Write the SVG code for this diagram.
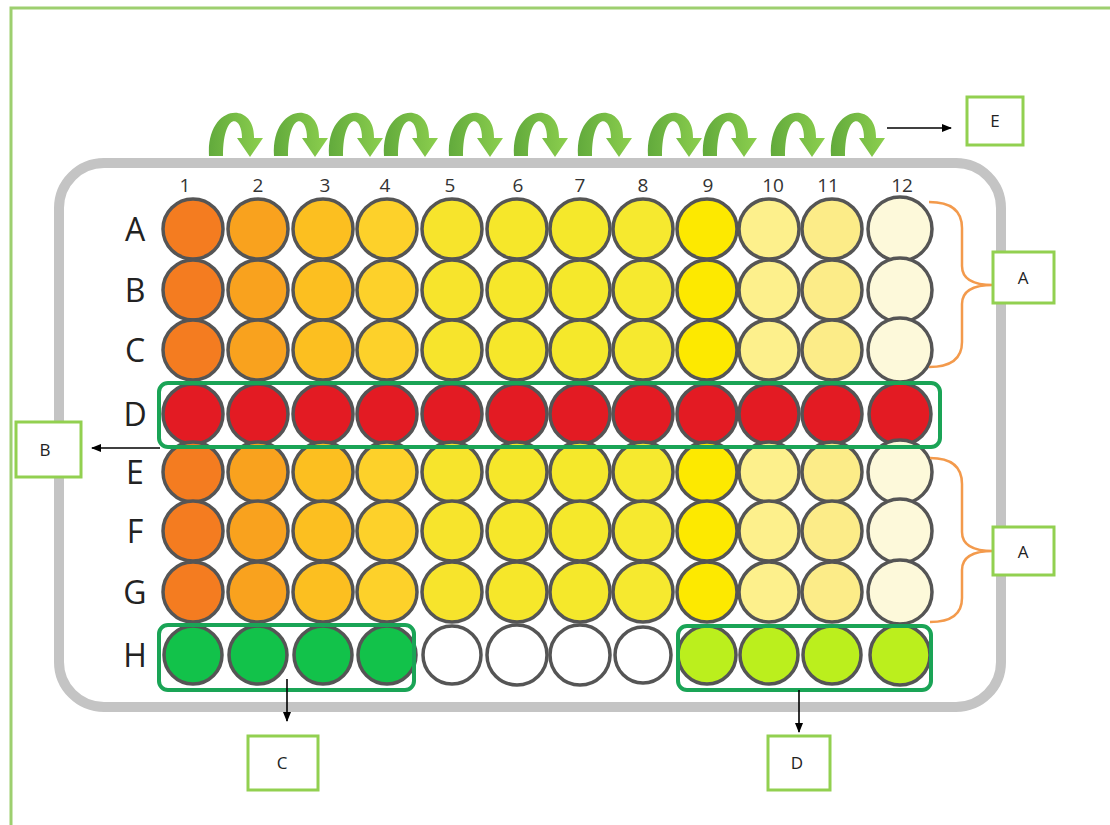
<svg xmlns="http://www.w3.org/2000/svg" xmlns:xlink="http://www.w3.org/1999/xlink" width="1110" height="825" viewBox="0 0 1110 825">
<style>
.frame{fill:none;stroke:#9dcf6f;stroke-width:3}
.plate{fill:#fff;stroke:#c4c4c4;stroke-width:10}
.w{stroke:#555;stroke-width:3.5}
.c1{fill:#f47c20}.c2{fill:#f9a21e}.c3{fill:#fcbf20}.c4{fill:#fdd12a}.c5{fill:#f7e42c}.c6{fill:#f6e72a}
.c7{fill:#f5e82b}.c8{fill:#f6e92f}.c9{fill:#fde900}.c10{fill:#fdf08c}.c11{fill:#fcec88}.c12{fill:#fdf9da}
.red{fill:#e31b23}.grn{fill:#12c24a}.lime{fill:#bbef1d}.wht{fill:#fff}
.hl{fill:none;stroke:#1aa456;stroke-width:4}
.box{fill:#fff;stroke:#92d050;stroke-width:3}
.bt{font-family:"Open Sans","Liberation Sans",sans-serif;font-size:17px;fill:#222;text-anchor:middle}
.rl{font-family:"Open Sans","Liberation Sans",sans-serif;font-size:32px;fill:#222;text-anchor:middle}
.cl{font-family:"Open Sans","Liberation Sans",sans-serif;font-size:19px;fill:#333;text-anchor:middle}
.arr{stroke:#000;stroke-width:1.6;fill:none;marker-end:url(#ah)}
.brace{fill:none;stroke:#f39a4c;stroke-width:2.5}
</style>
<defs>
<marker id="ah" markerWidth="10" markerHeight="8" refX="9" refY="4" orient="auto" markerUnits="userSpaceOnUse">
<path d="M0,0 L10,4 L0,8 Z" fill="#000"/>
</marker>
<linearGradient id="cg" x1="0" y1="0" x2="1" y2="0">
<stop offset="0" stop-color="#62aa3c"/>
<stop offset="1" stop-color="#8ccf4e"/>
</linearGradient>
<path id="curl" d="M1,156 C-2,104 47,100 46,138 L55,138 L42,157 L29,138 L34,138 C34,114 15,112 15,156 Z" fill="url(#cg)"/>
</defs>
<rect class="frame" x="11" y="8" width="1110" height="830"/>
<rect class="plate" x="59" y="163" width="942" height="544" rx="45"/>
<g id="curls">
<use xlink:href="#curl" x="208"/><use xlink:href="#curl" x="273"/><use xlink:href="#curl" x="328"/>
<use xlink:href="#curl" x="383"/><use xlink:href="#curl" x="448"/><use xlink:href="#curl" x="513"/>
<use xlink:href="#curl" x="577"/><use xlink:href="#curl" x="647"/><use xlink:href="#curl" x="702"/>
<use xlink:href="#curl" x="770"/><use xlink:href="#curl" x="830"/>
</g>
<g id="col-labels">
<text class="cl" x="185" y="192">1</text><text class="cl" x="258" y="192">2</text><text class="cl" x="325" y="192">3</text>
<text class="cl" x="385" y="192">4</text><text class="cl" x="450" y="192">5</text><text class="cl" x="518" y="192">6</text>
<text class="cl" x="580" y="192">7</text><text class="cl" x="643" y="192">8</text><text class="cl" x="708" y="192">9</text>
<text class="cl" x="773" y="192">10</text><text class="cl" x="828" y="192">11</text><text class="cl" x="902" y="192">12</text>
</g>
<g id="row-labels">
<text class="rl" x="135" y="241">A</text><text class="rl" x="135" y="302">B</text><text class="rl" x="135" y="362">C</text>
<text class="rl" x="135" y="426">D</text><text class="rl" x="135" y="484">E</text><text class="rl" x="135" y="543">F</text>
<text class="rl" x="135" y="604">G</text><text class="rl" x="135" y="667">H</text>
</g>
<g id="row-A" class="w">
<circle class="c1" cx="193" cy="229" r="30"/><circle class="c2" cx="258" cy="229" r="30"/><circle class="c3" cx="323" cy="229" r="30"/><circle class="c4" cx="387" cy="229" r="30"/><circle class="c5" cx="452" cy="229" r="30"/><circle class="c6" cx="517" cy="229" r="30"/><circle class="c7" cx="580" cy="229" r="30"/><circle class="c8" cx="643" cy="229" r="30"/><circle class="c9" cx="707" cy="229" r="30"/><circle class="c10" cx="769" cy="229" r="30"/><circle class="c11" cx="832" cy="229" r="30"/><circle class="c12" cx="900" cy="229" r="32"/>
</g>
<g id="row-B" class="w">
<circle class="c1" cx="193" cy="290" r="30"/><circle class="c2" cx="258" cy="290" r="30"/><circle class="c3" cx="323" cy="290" r="30"/><circle class="c4" cx="387" cy="290" r="30"/><circle class="c5" cx="452" cy="290" r="30"/><circle class="c6" cx="517" cy="290" r="30"/><circle class="c7" cx="580" cy="290" r="30"/><circle class="c8" cx="643" cy="290" r="30"/><circle class="c9" cx="707" cy="290" r="30"/><circle class="c10" cx="769" cy="290" r="30"/><circle class="c11" cx="832" cy="290" r="30"/><circle class="c12" cx="900" cy="290" r="32"/>
</g>
<g id="row-C" class="w">
<circle class="c1" cx="193" cy="350" r="30"/><circle class="c2" cx="258" cy="350" r="30"/><circle class="c3" cx="323" cy="350" r="30"/><circle class="c4" cx="387" cy="350" r="30"/><circle class="c5" cx="452" cy="350" r="30"/><circle class="c6" cx="517" cy="350" r="30"/><circle class="c7" cx="580" cy="350" r="30"/><circle class="c8" cx="643" cy="350" r="30"/><circle class="c9" cx="707" cy="350" r="30"/><circle class="c10" cx="769" cy="350" r="30"/><circle class="c11" cx="832" cy="350" r="30"/><circle class="c12" cx="900" cy="350" r="32"/>
</g>
<g id="row-D" class="w">
<circle class="red" cx="193" cy="414" r="30"/><circle class="red" cx="258" cy="414" r="30"/><circle class="red" cx="323" cy="414" r="30"/><circle class="red" cx="387" cy="414" r="30"/><circle class="red" cx="452" cy="414" r="30"/><circle class="red" cx="517" cy="414" r="30"/><circle class="red" cx="580" cy="414" r="30"/><circle class="red" cx="643" cy="414" r="30"/><circle class="red" cx="707" cy="414" r="30"/><circle class="red" cx="769" cy="414" r="30"/><circle class="red" cx="832" cy="414" r="30"/><circle class="red" cx="900" cy="414" r="31"/>
</g>
<g id="row-E" class="w">
<circle class="c1" cx="193" cy="472" r="30"/><circle class="c2" cx="258" cy="472" r="30"/><circle class="c3" cx="323" cy="472" r="30"/><circle class="c4" cx="387" cy="472" r="30"/><circle class="c5" cx="452" cy="472" r="30"/><circle class="c6" cx="517" cy="472" r="30"/><circle class="c7" cx="580" cy="472" r="30"/><circle class="c8" cx="643" cy="472" r="30"/><circle class="c9" cx="707" cy="472" r="30"/><circle class="c10" cx="769" cy="472" r="30"/><circle class="c11" cx="832" cy="472" r="30"/><circle class="c12" cx="900" cy="472" r="32"/>
</g>
<g id="row-F" class="w">
<circle class="c1" cx="193" cy="531" r="30"/><circle class="c2" cx="258" cy="531" r="30"/><circle class="c3" cx="323" cy="531" r="30"/><circle class="c4" cx="387" cy="531" r="30"/><circle class="c5" cx="452" cy="531" r="30"/><circle class="c6" cx="517" cy="531" r="30"/><circle class="c7" cx="580" cy="531" r="30"/><circle class="c8" cx="643" cy="531" r="30"/><circle class="c9" cx="707" cy="531" r="30"/><circle class="c10" cx="769" cy="531" r="30"/><circle class="c11" cx="832" cy="531" r="30"/><circle class="c12" cx="900" cy="531" r="32"/>
</g>
<g id="row-G" class="w">
<circle class="c1" cx="193" cy="592" r="30"/><circle class="c2" cx="258" cy="592" r="30"/><circle class="c3" cx="323" cy="592" r="30"/><circle class="c4" cx="387" cy="592" r="30"/><circle class="c5" cx="452" cy="592" r="30"/><circle class="c6" cx="517" cy="592" r="30"/><circle class="c7" cx="580" cy="592" r="30"/><circle class="c8" cx="643" cy="592" r="30"/><circle class="c9" cx="707" cy="592" r="30"/><circle class="c10" cx="769" cy="592" r="30"/><circle class="c11" cx="832" cy="592" r="30"/><circle class="c12" cx="900" cy="592" r="32"/>
</g>
<g id="row-H" class="w">
<circle class="grn" cx="193" cy="655" r="29"/><circle class="grn" cx="258" cy="655" r="29"/><circle class="grn" cx="323" cy="655" r="29"/><circle class="grn" cx="387" cy="655" r="29"/><circle class="wht" cx="452" cy="655" r="29"/><circle class="wht" cx="517" cy="655" r="30"/><circle class="wht" cx="580" cy="655" r="30"/><circle class="wht" cx="643" cy="655" r="28"/><circle class="lime" cx="707" cy="655" r="29"/><circle class="lime" cx="769" cy="655" r="29"/><circle class="lime" cx="832" cy="655" r="29"/><circle class="lime" cx="900" cy="655" r="30"/>
</g>
<g id="highlights">
<rect class="hl" x="159" y="383" width="781" height="64" rx="9"/>
<rect class="hl" x="159" y="625" width="255" height="65" rx="9"/>
<rect class="hl" x="678" y="626" width="253" height="64" rx="9"/>
</g>
<g id="braces">
<path class="brace" d="M929,202 Q962,202 962,228 L962,266 Q962,285 993,285 Q962,285 962,304 L962,342 Q962,367 929,367"/>
<path class="brace" d="M930,458 Q962,458 962,484 L962,532 Q962,551 993,551 Q962,551 962,570 L962,598 Q962,622 930,622"/>
</g>
<g id="connectors">
<line class="arr" x1="887" y1="128" x2="951" y2="128"/>
<line class="arr" x1="160" y1="448" x2="92" y2="448"/>
<line class="arr" x1="287" y1="679" x2="287" y2="721"/>
<line class="arr" x1="799" y1="690" x2="799" y2="732"/>
</g>
<g id="label-E"><rect class="box" x="967" y="97" width="56" height="48"/><text class="bt" x="995" y="127">E</text></g>
<g id="label-A1"><rect class="box" x="993" y="252" width="61" height="51"/><text class="bt" x="1023" y="284">A</text></g>
<g id="label-B"><rect class="box" x="16" y="422" width="65" height="55"/><text class="bt" x="45" y="456">B</text></g>
<g id="label-A2"><rect class="box" x="993" y="527" width="61" height="48"/><text class="bt" x="1023" y="558">A</text></g>
<g id="label-C"><rect class="box" x="248" y="736" width="70" height="54"/><text class="bt" x="282" y="769">C</text></g>
<g id="label-D"><rect class="box" x="768" y="736" width="62" height="54"/><text class="bt" x="797" y="769">D</text></g>
</svg>
